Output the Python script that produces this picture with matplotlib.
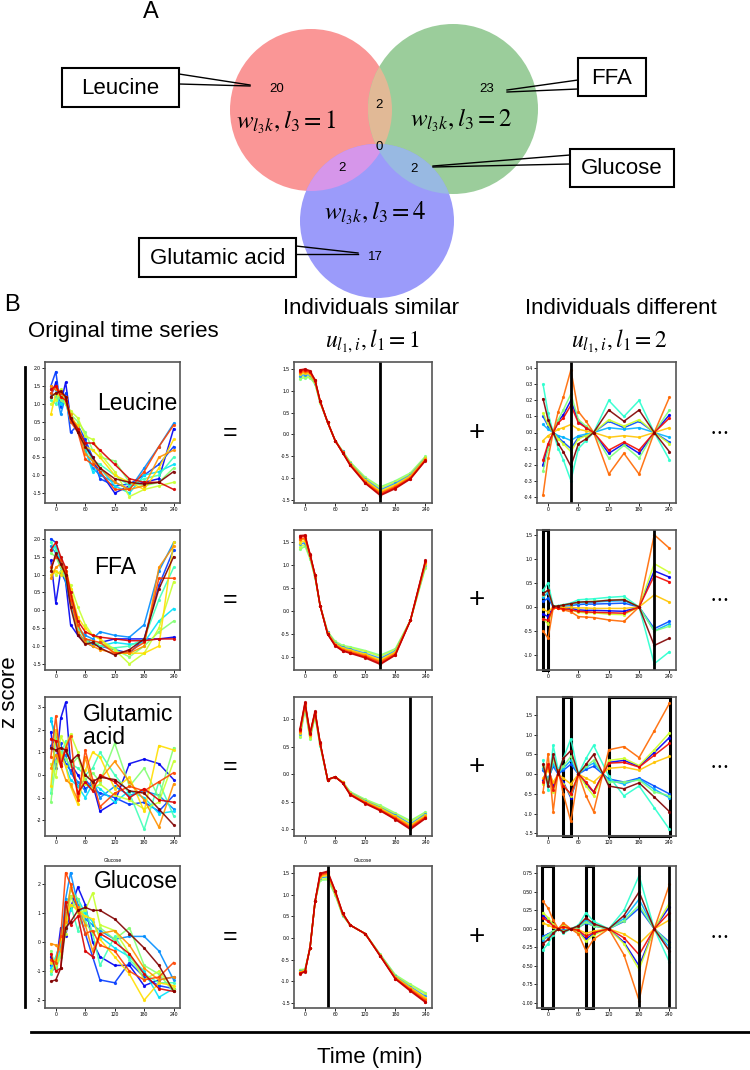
import numpy as np
import matplotlib
matplotlib.use('Agg')
import matplotlib.pyplot as plt
from matplotlib.patches import Circle, Rectangle
from matplotlib.ticker import MultipleLocator, FormatStrFormatter

plt.rcParams['font.family'] = ['Liberation Sans', 'DejaVu Sans']
plt.rcParams['mathtext.fontset'] = 'stix'

# sampling times (min)
time = [-10, 0, 10, 20, 30, 45, 60, 75, 90, 120, 150, 180, 210, 240]

# Venn counts: only-1, only-2, only-4 / pairs 1&2, 1&4, 2&4 / all three
venn_single = [20, 23, 17]
venn_pairs = [2, 2, 2]
venn_triple = 0
venn_names = ['Leucine', 'FFA', 'Glucose', 'Glutamic acid']
metabolites = ['Leucine', 'FFA', 'Glutamic\nacid', 'Glucose']

# ---- original time series (12 individuals, blue -> dark red) ----
leucine_orig = [
    [1.2, 1.6, 1.0, 1.6, 0.6, 0.3, -0.1, -0.6, -0.9, -1.5, -1.3, -1.2, -1.1, 0.3],
    [1.5, 1.9, 0.9, 1.3, 0.2, 0.4, 0.0, -0.5, -1.1, -1.3, -1.25, -1.0, -0.7, -0.2],
    [1.4, 1.4, 0.7, 1.2, 0.5, 0.3, -0.3, -0.8, -1.0, -1.2, -1.4, -0.8, -0.2, 0.45],
    [1.3, 1.2, 1.0, 1.1, 0.5, 0.4, -0.3, -0.9, -0.8, -1.3, -1.5, -1.0, -0.9, -0.7],
    [1.1, 1.0, 1.3, 1.0, 0.6, 0.2, -0.2, -0.6, -0.7, -1.0, -1.3, -1.1, -1.0, -0.5],
    [1.2, 1.3, 1.1, 1.0, 0.7, 0.5, 0.2, -0.3, -0.5, -0.6, -1.2, -1.3, -1.2, -0.8],
    [1.0, 1.1, 1.4, 1.0, 0.8, 0.6, 0.1, 0.0, -0.4, -0.9, -1.6, -1.4, -1.3, -1.2],
    [0.7, 1.3, 1.2, 1.1, 0.6, 0.4, -0.2, -0.3, -0.5, -1.0, -1.2, -1.4, -0.8, 0.0],
    [1.5, 1.4, 1.3, 1.2, 0.7, 0.3, -0.4, -0.6, -0.8, -1.2, -1.4, -1.3, -0.5, -0.3],
    [1.3, 1.5, 1.3, 1.2, 0.5, 0.2, -0.55, -0.7, -0.9, -1.4, -1.4, -0.9, -0.2, 0.4],
    [1.4, 1.5, 1.2, 1.1, 0.6, 0.3, -0.1, -0.1, -0.3, -0.7, -1.1, -1.2, -1.2, -1.4],
    [1.2, 1.3, 1.35, 1.2, 0.6, 0.2, -0.2, -0.5, -0.8, -1.1, -1.2, -1.25, -1.2, -0.9],
]
ffa_orig = [
    [1.4, 0.2, 1.1, 0.8, -0.4, -0.7, -0.9, -1.0, -0.9, -0.8, -0.8, -0.8, -0.8, -0.75],
    [2.0, 1.9, 1.4, 1.0, 0.5, -0.7, -0.8, -0.95, -1.0, -1.1, -1.2, -0.8, 0.7, 1.7],
    [1.8, 1.6, 1.2, 0.8, 0.2, -0.5, -0.7, -0.8, -0.6, -0.7, -0.75, -0.4, 1.1, 1.9],
    [1.7, 1.8, 1.3, 0.9, 0.2, -0.6, -0.9, -0.9, -1.0, -0.9, -0.95, -0.9, -0.3, 0.05],
    [1.9, 1.7, 1.5, 1.1, 0.4, -0.5, -0.8, -0.85, -1.0, -1.05, -1.0, -0.8, 0.3, 1.2],
    [1.6, 1.5, 1.2, 1.0, 0.3, -0.4, -0.8, -1.0, -0.9, -1.1, -1.3, -1.0, -0.6, -0.3],
    [1.2, 1.0, 1.1, 0.9, 0.7, 0.1, -0.4, -0.7, -0.8, -1.1, -1.5, -1.2, -0.5, 0.8],
    [1.0, 1.1, 1.0, 1.2, 0.6, -0.2, -0.5, -0.7, -0.8, -1.2, -1.2, -1.2, -1.0, 1.9],
    [0.9, 1.2, 1.3, 1.0, 0.4, -0.6, -0.9, -1.0, -1.1, -1.2, -1.2, -1.0, 1.2, 1.8],
    [1.2, 1.5, 1.4, 1.1, 0.3, -0.4, -0.8, -0.85, -0.9, -1.2, -1.15, -0.9, 0.9, 0.9],
    [1.7, 1.9, 1.5, 1.2, 0.5, -0.3, -0.6, -0.7, -0.75, -0.8, -0.85, -0.85, -0.8, -0.8],
    [1.1, 1.6, 1.3, 1.0, 0.1, -0.7, -0.95, -0.9, -1.05, -1.25, -1.1, -0.8, 0.6, 1.5],
]
glutamic_orig = [
    [1.9, 0.3, 2.5, 3.2, 0.5, 0.0, -0.6, -0.4, -1.6, -1.2, 0.5, 0.7, 0.5, -0.2],
    [1.3, 1.6, 1.4, 0.5, 0.2, -0.5, -0.2, -0.6, -0.8, -1.0, -1.3, -1.2, -1.6, -0.9],
    [2.4, 1.8, 0.5, 0.9, 0.1, -0.3, -0.7, -0.2, -1.0, -0.5, -0.9, -0.7, -0.9, -1.5],
    [2.5, 1.4, 1.0, 0.4, -0.2, -0.5, -1.0, -0.4, -0.6, -1.2, -0.7, -1.0, -1.7, -1.6],
    [-0.8, 1.6, 0.8, 1.5, 0.5, 0.3, 0.0, 0.3, 1.0, 0.0, -0.8, -2.4, -0.3, -1.8],
    [-1.2, 0.6, 1.0, 0.7, 0.4, 0.8, -0.2, 0.1, -0.3, 1.4, -0.5, 0.3, -1.0, 1.2],
    [0.5, -0.1, 1.7, 1.3, 1.8, 1.0, -0.4, -0.6, -0.4, -0.9, -1.1, -1.5, -1.2, 0.6],
    [-0.5, 2.0, 0.9, 0.4, -0.5, -1.3, 0.2, 1.0, 0.8, -0.6, -0.1, -1.6, 1.3, 1.1],
    [0.3, 0.9, 0.4, -0.2, -0.4, -1.1, 0.8, -0.5, -0.2, 0.6, -0.3, -1.1, -2.3, -0.4],
    [0.8, 2.6, 0.5, 1.2, 1.7, -1.1, 1.1, -0.2, -1.4, -0.8, -0.5, -0.7, -0.3, 0.1],
    [1.6, 1.5, 0.4, 1.1, 0.6, -0.8, -0.3, -0.7, 0.0, -0.3, -1.0, -0.6, -1.1, -1.2],
    [1.2, 1.1, 1.2, 1.1, 0.6, 0.9, 0.0, -0.3, -0.1, -0.2, -0.7, -0.8, -1.5, -2.2],
]
glucose_orig = [
    [-0.5, -0.8, 0.5, 0.2, 1.2, 1.9, 1.3, 0.0, -0.5, -0.8, -0.8, -1.5, -1.3, -1.2],
    [-0.8, -0.6, 0.1, 1.0, 1.6, 1.2, 0.3, -0.5, -1.3, -1.4, -0.7, -1.2, -1.5, -1.6],
    [-1.0, -0.9, -0.2, 1.5, 2.4, 1.3, 0.8, 0.6, 0.4, 0.1, 0.2, 0.2, -0.3, -1.3],
    [-0.9, -0.5, 0.0, 0.9, 1.1, 1.5, 1.0, 0.7, 0.2, -0.2, -0.5, -1.0, -1.9, -1.6],
    [-1.1, -0.7, -0.3, 0.5, 1.3, 0.4, 1.2, 0.3, -0.8, 0.2, -0.6, -1.1, -1.4, -1.4],
    [-0.3, -0.9, -0.5, 1.1, 1.8, 1.5, 0.7, 0.3, 0.5, 0.1, 0.5, -0.8, -1.1, -1.7],
    [-1.0, -0.8, -0.4, 0.3, 1.6, 1.0, 1.1, 1.7, 0.6, 0.4, -0.4, -1.3, -1.0, -1.6],
    [-0.7, -0.6, 0.1, 0.8, 1.3, 1.1, 0.9, 0.8, 0.1, -0.5, -1.1, -2.0, -1.4, -1.5],
    [-0.05, -0.1, -0.3, 0.7, 1.9, 1.2, 0.6, -0.3, 0.3, 0.4, -0.1, -0.9, -1.3, -1.2],
    [-0.6, -0.7, 0.2, 2.4, 2.0, 1.1, 0.3, 0.4, -0.1, -0.3, -1.0, -1.3, -1.2, -0.7],
    [-0.4, -1.0, -0.9, 1.4, 0.6, 0.9, -0.3, -0.5, 0.3, 0.0, -0.4, -1.1, -1.6, -1.7],
    [-1.35, -1.3, -0.9, 0.5, 0.7, 1.1, 1.2, 1.1, 1.1, 0.8, 0.3, -0.2, -0.8, -1.7],
]

# ---- "individuals similar" component, l1 = 1 (8 individuals) ----
leucine_sim = [
    [1.28, 1.30, 1.30, 1.15, 0.73, 0.28, -0.14, -0.38, -0.63, -0.98, -1.20, -1.06, -0.88, -0.50],
    [1.31, 1.33, 1.32, 1.17, 0.74, 0.28, -0.14, -0.39, -0.64, -1.00, -1.23, -1.09, -0.90, -0.52],
    [1.35, 1.37, 1.36, 1.19, 0.74, 0.28, -0.14, -0.39, -0.66, -1.03, -1.27, -1.12, -0.93, -0.54],
    [1.38, 1.40, 1.38, 1.20, 0.75, 0.28, -0.14, -0.40, -0.67, -1.05, -1.30, -1.15, -0.95, -0.55],
    [1.41, 1.43, 1.40, 1.22, 0.76, 0.28, -0.14, -0.41, -0.68, -1.07, -1.33, -1.18, -0.97, -0.57],
    [1.43, 1.45, 1.42, 1.23, 0.76, 0.28, -0.14, -0.41, -0.69, -1.09, -1.35, -1.20, -0.99, -0.58],
    [1.46, 1.48, 1.44, 1.24, 0.77, 0.28, -0.14, -0.42, -0.70, -1.11, -1.38, -1.22, -1.01, -0.59],
    [1.48, 1.50, 1.46, 1.25, 0.77, 0.28, -0.14, -0.42, -0.71, -1.12, -1.40, -1.24, -1.02, -0.60],
]
ffa_sim = [
    [1.33, 1.40, 1.13, 0.72, 0.12, -0.44, -0.65, -0.74, -0.77, -0.85, -0.95, -0.81, -0.20, 0.94],
    [1.38, 1.44, 1.15, 0.73, 0.12, -0.45, -0.67, -0.76, -0.79, -0.87, -0.98, -0.83, -0.20, 0.96],
    [1.44, 1.48, 1.17, 0.74, 0.12, -0.46, -0.69, -0.78, -0.82, -0.91, -1.02, -0.86, -0.20, 1.00],
    [1.48, 1.52, 1.18, 0.75, 0.12, -0.47, -0.70, -0.80, -0.84, -0.93, -1.05, -0.88, -0.20, 1.02],
    [1.53, 1.56, 1.20, 0.76, 0.12, -0.48, -0.72, -0.82, -0.86, -0.95, -1.08, -0.90, -0.20, 1.04],
    [1.56, 1.58, 1.21, 0.77, 0.12, -0.49, -0.73, -0.83, -0.88, -0.97, -1.10, -0.92, -0.20, 1.06],
    [1.60, 1.62, 1.22, 0.77, 0.12, -0.49, -0.74, -0.85, -0.90, -0.99, -1.13, -0.94, -0.20, 1.08],
    [1.63, 1.64, 1.23, 0.78, 0.12, -0.50, -0.75, -0.86, -0.91, -1.01, -1.15, -0.95, -0.20, 1.10],
]
glutamic_sim = [
    [0.67, 1.19, 0.65, 1.05, 0.52, -0.10, -0.05, -0.14, -0.32, -0.46, -0.57, -0.71, -0.85, -0.69],
    [0.69, 1.21, 0.66, 1.07, 0.53, -0.10, -0.05, -0.14, -0.33, -0.47, -0.59, -0.73, -0.87, -0.71],
    [0.73, 1.23, 0.69, 1.09, 0.54, -0.10, -0.05, -0.15, -0.34, -0.49, -0.61, -0.75, -0.91, -0.73],
    [0.75, 1.25, 0.70, 1.10, 0.55, -0.10, -0.05, -0.15, -0.35, -0.50, -0.62, -0.77, -0.93, -0.75],
    [0.77, 1.27, 0.72, 1.12, 0.56, -0.10, -0.05, -0.15, -0.36, -0.51, -0.64, -0.79, -0.95, -0.77],
    [0.79, 1.28, 0.73, 1.13, 0.57, -0.10, -0.05, -0.16, -0.37, -0.52, -0.65, -0.80, -0.97, -0.78],
    [0.81, 1.30, 0.74, 1.14, 0.57, -0.10, -0.05, -0.16, -0.37, -0.53, -0.66, -0.82, -0.99, -0.80],
    [0.83, 1.31, 0.75, 1.15, 0.58, -0.10, -0.05, -0.16, -0.38, -0.54, -0.67, -0.83, -1.01, -0.81],
]
glucose_sim = [
    [-0.73, -0.72, -0.22, 0.85, 1.34, 1.35, 1.00, 0.52, 0.30, 0.10, -0.38, -0.85, -1.07, -1.27],
    [-0.75, -0.73, -0.22, 0.85, 1.36, 1.38, 1.02, 0.53, 0.30, 0.10, -0.39, -0.87, -1.09, -1.30],
    [-0.77, -0.74, -0.22, 0.85, 1.40, 1.42, 1.04, 0.54, 0.30, 0.10, -0.39, -0.89, -1.13, -1.35],
    [-0.78, -0.75, -0.22, 0.85, 1.42, 1.45, 1.05, 0.55, 0.30, 0.10, -0.40, -0.90, -1.15, -1.38],
    [-0.80, -0.76, -0.22, 0.85, 1.44, 1.48, 1.07, 0.56, 0.30, 0.10, -0.41, -0.92, -1.17, -1.41],
    [-0.81, -0.77, -0.22, 0.85, 1.46, 1.50, 1.08, 0.57, 0.30, 0.10, -0.41, -0.93, -1.19, -1.44],
    [-0.82, -0.77, -0.22, 0.85, 1.48, 1.53, 1.09, 0.57, 0.30, 0.10, -0.42, -0.94, -1.21, -1.47],
    [-0.83, -0.78, -0.22, 0.85, 1.50, 1.55, 1.10, 0.58, 0.30, 0.10, -0.42, -0.95, -1.23, -1.49],
]

# ---- "individuals different" component, l1 = 2 (10 individuals) ----
leucine_diff = [
    [-0.20, -0.08, 0.0, 0.07, 0.11, 0.20, 0.07, 0.03, 0.0, -0.13, -0.07, -0.13, 0.0, 0.11],
    [0.10, 0.04, 0.0, -0.03, -0.06, -0.10, -0.03, -0.02, 0.0, 0.07, 0.03, 0.07, 0.0, -0.06],
    [0.05, 0.02, 0.0, -0.02, -0.03, -0.05, -0.02, -0.01, 0.0, 0.03, 0.02, 0.03, 0.0, -0.03],
    [0.30, 0.12, 0.0, -0.10, -0.17, -0.30, -0.10, -0.05, 0.0, 0.20, 0.10, 0.20, 0.0, -0.17],
    [-0.24, -0.10, 0.0, 0.08, 0.14, 0.24, 0.08, 0.04, 0.0, -0.16, -0.08, -0.16, 0.0, 0.14],
    [0.12, 0.05, 0.0, -0.04, -0.07, -0.12, -0.04, -0.02, 0.0, 0.08, 0.04, 0.08, 0.0, -0.07],
    [-0.05, -0.02, 0.0, 0.02, 0.03, 0.05, 0.02, 0.01, 0.0, -0.03, -0.02, -0.03, 0.0, 0.03],
    [-0.39, -0.16, 0.0, 0.13, 0.22, 0.39, 0.13, 0.07, 0.0, -0.26, -0.13, -0.26, 0.0, 0.22],
    [-0.17, -0.07, 0.0, 0.06, 0.09, 0.17, 0.06, 0.03, 0.0, -0.11, -0.06, -0.11, 0.0, 0.09],
    [0.21, 0.08, 0.0, -0.07, -0.12, -0.21, -0.07, -0.04, 0.0, 0.14, 0.07, 0.14, 0.0, -0.12],
]
ffa_diff = [
    [-0.15, -0.20, 0.0, -0.01, -0.02, -0.03, -0.06, -0.07, -0.07, -0.08, -0.09, 0.0, 0.75, 0.62],
    [0.12, 0.18, 0.0, 0.01, 0.02, 0.03, 0.05, 0.06, 0.06, 0.07, 0.08, 0.0, -0.45, -0.30],
    [0.20, 0.30, 0.01, 0.02, 0.03, 0.05, 0.09, 0.09, 0.10, 0.12, 0.13, 0.0, -0.50, -0.35],
    [0.35, 0.50, 0.02, 0.03, 0.05, 0.08, 0.15, 0.16, 0.17, 0.20, 0.22, 0.0, -1.18, -0.93],
    [0.25, 0.35, 0.01, 0.02, 0.04, 0.06, 0.10, 0.11, 0.12, 0.14, 0.16, 0.0, -0.50, -0.40],
    [-0.25, -0.35, -0.01, -0.02, -0.04, -0.06, -0.11, -0.12, -0.12, -0.15, -0.16, 0.0, 0.90, 0.72],
    [-0.05, -0.10, 0.0, 0.0, -0.01, -0.01, -0.02, -0.02, -0.03, -0.03, -0.03, 0.0, 0.25, 0.10],
    [-0.50, -0.65, -0.02, -0.03, -0.06, -0.10, -0.20, -0.21, -0.22, -0.27, -0.30, 0.0, 1.50, 1.22],
    [-0.25, -0.28, -0.01, -0.02, -0.04, -0.06, -0.09, -0.10, -0.11, -0.12, -0.13, 0.0, 0.65, 0.52],
    [0.28, 0.35, 0.01, 0.02, 0.04, 0.07, 0.10, 0.11, 0.11, 0.14, 0.15, 0.0, -0.80, -0.65],
]
glutamic_diff = [
    [-0.15, 0.20, -0.30, 0.0, -0.20, -0.60, 0.0, -0.25, -0.45, 0.30, 0.35, 0.20, 0.55, 0.93],
    [0.10, -0.12, 0.20, 0.0, 0.10, 0.25, 0.0, 0.12, 0.20, -0.12, -0.20, -0.10, -0.30, -0.50],
    [0.15, -0.15, 0.25, 0.02, 0.15, 0.35, 0.0, 0.18, 0.28, -0.15, -0.25, -0.12, -0.38, -0.60],
    [0.35, -0.40, 0.73, 0.10, 0.40, 0.90, 0.0, 0.40, 0.73, -0.05, -0.55, -0.30, -0.85, -1.40],
    [0.20, -0.20, 0.35, 0.05, 0.20, 0.45, 0.0, 0.20, 0.35, -0.20, -0.20, -0.15, -0.45, -0.55],
    [-0.25, 0.25, -0.45, 0.0, -0.25, -0.55, 0.0, -0.30, -0.55, 0.35, 0.40, 0.22, 0.62, 1.05],
    [-0.10, 0.10, -0.20, 0.0, -0.10, -0.25, 0.0, -0.10, -0.20, 0.15, 0.18, 0.10, 0.30, 0.45],
    [-0.45, 0.52, -0.95, 0.10, -0.50, -1.20, 0.0, -0.55, -0.95, 0.62, 0.70, 0.42, 1.10, 1.80],
    [-0.20, 0.25, -0.40, 0.05, -0.30, -0.50, 0.0, -0.20, -0.45, 0.28, 0.30, 0.18, 0.48, 0.78],
    [0.25, -0.30, 0.50, 0.0, 0.40, 0.60, 0.0, 0.25, 0.50, -0.30, -0.37, -0.22, -0.58, -0.95],
]
glucose_diff = [
    [0.18, 0.12, 0.05, 0.0, 0.04, 0.0, -0.03, -0.14, -0.06, 0.0, -0.18, -0.50, 0.0, 0.30],
    [-0.10, -0.07, -0.03, 0.0, -0.02, 0.0, 0.02, 0.08, 0.04, 0.0, 0.10, 0.28, 0.0, -0.18],
    [-0.15, -0.10, -0.04, 0.0, -0.03, 0.0, 0.03, 0.12, 0.05, 0.0, 0.14, 0.40, 0.0, -0.25],
    [-0.28, -0.20, -0.08, 0.0, -0.06, 0.0, 0.05, 0.22, 0.10, 0.0, 0.25, 0.72, 0.0, -0.45],
    [-0.12, -0.08, -0.03, 0.0, -0.03, 0.0, 0.02, 0.09, 0.04, 0.0, 0.11, 0.32, 0.0, -0.20],
    [0.22, 0.15, 0.06, 0.0, 0.05, 0.0, -0.04, -0.17, -0.08, 0.0, -0.20, -0.55, 0.0, 0.35],
    [0.08, 0.05, 0.02, 0.0, 0.02, 0.0, -0.01, -0.06, -0.03, 0.0, -0.07, -0.20, 0.0, 0.12],
    [0.37, 0.28, 0.12, 0.0, 0.08, 0.0, -0.07, -0.30, -0.14, 0.0, -0.35, -0.97, 0.0, 0.60],
    [0.15, 0.10, 0.04, 0.0, 0.03, 0.0, -0.02, -0.10, -0.05, 0.0, -0.12, -0.35, 0.0, 0.22],
    [-0.20, -0.14, -0.06, 0.0, -0.04, 0.0, 0.04, 0.15, 0.07, 0.0, 0.18, 0.50, 0.0, -0.30],
]

# highlighted time points / windows in the decomposition panels
sim_marks = [150, 150, 210, 45]
diff_lines = [[45], [210], [], [180, 240]]
diff_boxes = [[], [(-11, 0.7)], [(30, 45.5), (120.5, 241)], [(-11.5, 9.5), (74, 89.5)]]

orig = [leucine_orig, ffa_orig, glutamic_orig, glucose_orig]
similar = [leucine_sim, ffa_sim, glutamic_sim, glucose_sim]
different = [leucine_diff, ffa_diff, glutamic_diff, glucose_diff]

# ---- layout (pixels of a 750x1070 canvas) ----
W, H = 750, 1070
fig = plt.figure(figsize=(7.5, 10.7), dpi=100)

ov = fig.add_axes([0, 0, 1, 1])
ov.set_xlim(0, W)
ov.set_ylim(H, 0)
ov.axis('off')

# panel A: Venn diagram
red = Circle((311, 110), 81, fc='#fa9696', ec='none')
green = Circle((453, 109), 85, fc='#9bcd9b', ec='none')
blue = Circle((377, 221), 77, fc='#9b9bfa', ec='none')
for c in (red, green, blue):
    ov.add_patch(c)
for base, clip, col in [(red, green, '#e1b996'), (red, blue, '#d696ea'), (green, blue, '#98b9e2')]:
    lens = Circle(base.center, base.radius, fc=col, ec='none')
    ov.add_patch(lens)
    lens.set_clip_path(Circle(clip.center, clip.radius, transform=ov.transData))

ov.text(151, 12, 'A', fontsize=17, ha='center', va='center')
for (x, y), n in zip([(277, 89), (487, 89), (375, 257)], venn_single):
    ov.text(x, y, str(n), fontsize=9.5, ha='center', va='center')
for (x, y), n in zip([(379, 105), (342, 168), (414, 169)], venn_pairs):
    ov.text(x, y, str(n), fontsize=9.5, ha='center', va='center')
ov.text(379, 147, str(venn_triple), fontsize=9.5, ha='center', va='center')
for (x, y), k in zip([(286, 122), (461, 120), (375, 213)], [1, 2, 4]):
    ov.text(x, y, r'$w_{l_3k}, l_3 = %d$' % k, fontsize=18, ha='center', va='center')

boxes = [(62, 68, 117, 39), (578, 58, 68, 38), (570, 149, 104, 38), (139, 238, 157, 39)]
callouts = [[(179, 74, 250, 85), (179, 84, 250, 86)],
            [(578, 80, 507, 90), (578, 89, 507, 92)],
            [(570, 155, 433, 166), (570, 164, 433, 167)],
            [(296, 246, 358, 253), (296, 254, 358, 254)]]
for name, (bx, by, bw, bh), lines in zip(venn_names, boxes, callouts):
    ov.add_patch(Rectangle((bx, by), bw, bh, fill=False, ec='black', lw=1.5))
    ov.text(bx + bw / 2, by + bh / 2 + 1, name, fontsize=16, ha='center', va='center')
    for x0, y0, x1, y1 in lines:
        ov.plot([x0, x1], [y0, y1], color='black', lw=1)

# panel B headers
ov.text(12, 305, 'B', fontsize=17, ha='center', va='center')
ov.text(123, 331, 'Original time series', fontsize=16, ha='center', va='center')
ov.text(371, 308, 'Individuals similar', fontsize=16, ha='center', va='center')
ov.text(372, 341, r'$u_{l_1,i}, l_1 = 1$', fontsize=17, ha='center', va='center')
ov.text(621, 308, 'Individuals different', fontsize=16, ha='center', va='center')
ov.text(619, 341, r'$u_{l_1,i}, l_1 = 2$', fontsize=17, ha='center', va='center')

ov.plot([25, 25], [367, 1007], color='black', lw=2)
ov.text(10, 692, 'z score', fontsize=16, rotation=90, ha='center', va='center')
ov.plot([31, 750], [1032, 1032], color='black', lw=2)
ov.text(370, 1057, 'Time (min)', fontsize=16, ha='center', va='center')

cols_x = [(45, 180), (294, 432), (537, 676)]
rows_y = [(362, 503), (530, 670), (697, 836), (866, 1008)]
ylims = [[(-1.78, 2.17), (-1.57, 1.66), (-0.44, 0.44)],
         [(-1.67, 2.25), (-1.27, 1.75), (-1.31, 1.6)],
         [(-2.69, 3.44), (-1.13, 1.41), (-1.57, 1.96)],
         [(-2.27, 2.63), (-1.62, 1.67), (-1.07, 0.85)]]
ysteps = [[0.5, 0.5, 0.1], [0.5, 0.5, 0.5], [1, 0.5, 0.5], [1, 0.5, 0.25]]
yfmts = [['%.1f'] * 3, ['%.1f'] * 3, ['%d', '%.1f', '%.1f'], ['%d', '%.1f', '%.2f']]
label_pos = [(177, 403, 'right'), (115, 568, 'center'), (83, 726, 'left'), (178, 882, 'right')]

left_cols = plt.cm.jet(np.linspace(0.1, 1.0, 12))
mid_cols = ['#80ff80', '#c0ff40', '#1e90ff', '#ffe000', '#ffa000', '#ff5a00', '#ee0000', '#c00000']
right_cols = plt.cm.jet(np.linspace(0.1, 1.0, 10))


def panel(xr, yr):
    return fig.add_axes([xr[0] / W, 1 - yr[1] / H, (xr[1] - xr[0]) / W, (yr[1] - yr[0]) / H])


for r in range(4):
    ry = rows_y[r]
    for c, (data, cols) in enumerate([(orig[r], left_cols), (similar[r], mid_cols),
                                      (different[r], right_cols)]):
        ax = panel(cols_x[c], ry)
        for row, col in zip(data, cols):
            ax.plot(time, row, '-o', color=col, lw=1.1, ms=2.3, mew=0, alpha=0.9)
        ax.set_xlim(-22, 253)
        ax.set_ylim(*ylims[r][c])
        ax.set_xticks([0, 60, 120, 180, 240])
        ax.yaxis.set_major_locator(MultipleLocator(ysteps[r][c]))
        ax.yaxis.set_major_formatter(FormatStrFormatter(yfmts[r][c]))
        ax.tick_params(labelsize=3.6, length=2, width=0.6, pad=1)
        for s in ax.spines.values():
            s.set_linewidth(1.2)
            s.set_color('#555555')
        if c == 1:
            ax.axvline(sim_marks[r], color='black', lw=2)
        if c == 2:
            for xv in diff_lines[r]:
                ax.axvline(xv, color='black', lw=2)
            for x0, x1 in diff_boxes[r]:
                ax.add_patch(Rectangle((x0, 0), x1 - x0, 1, transform=ax.get_xaxis_transform(),
                                       fill=False, ec='black', lw=2.2, clip_on=False))
        if r == 3 and c < 2:
            ax.set_title('Glucose', fontsize=3.5, pad=3)
    yc = (ry[0] + ry[1]) / 2
    ov.text(230, yc, '=', fontsize=18, ha='center', va='center')
    ov.text(477, yc, '+', fontsize=20, ha='center', va='center')
    ov.text(720, yc, '\u2022 \u2022 \u2022', fontsize=7, ha='center', va='center')

# metabolite names drawn on top of the panels
top = fig.add_axes([0, 0, 1, 1])
top.set_xlim(0, W)
top.set_ylim(H, 0)
top.axis('off')
for name, (lx, ly, ha) in zip(metabolites, label_pos):
    top.text(lx, ly, name, fontsize=16.5, ha=ha, va='center', linespacing=1.0)

fig.savefig('out.png', dpi=100)
